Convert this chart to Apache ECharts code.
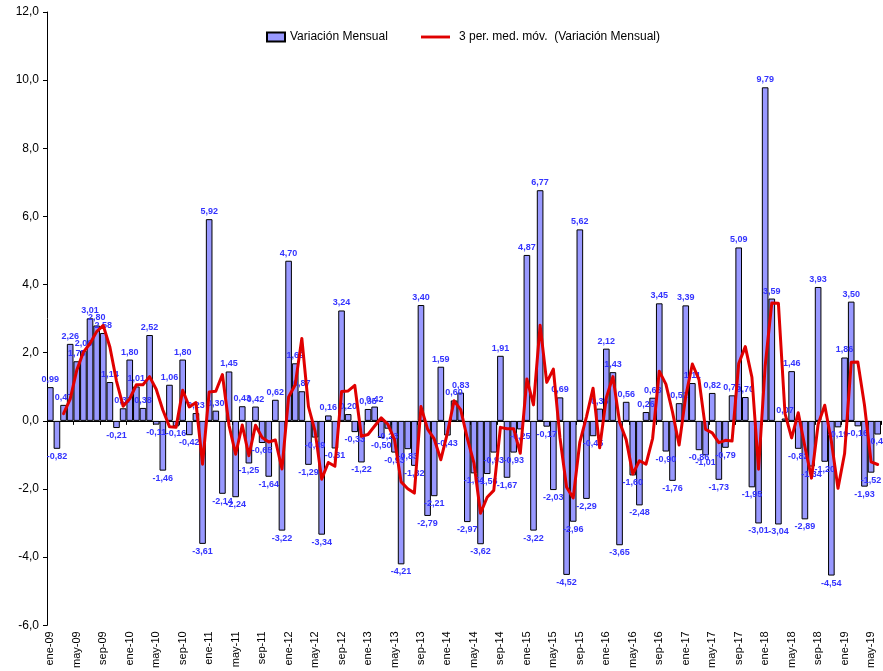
<!DOCTYPE html>
<html><head><meta charset="utf-8">
<script src="https://cdn.jsdelivr.net/npm/echarts@6/dist/echarts.min.js"></script>
<style>html,body{margin:0;padding:0;background:#fff}#c{width:883px;height:671px}</style>
</head><body><div id="c"></div>
<script>
const categories = [
 'ene-09','feb-09','mar-09','abr-09','may-09','jun-09','jul-09','ago-09','sep-09','oct-09','nov-09','dic-09',
 'ene-10','feb-10','mar-10','abr-10','may-10','jun-10','jul-10','ago-10','sep-10','oct-10','nov-10','dic-10',
 'ene-11','feb-11','mar-11','abr-11','may-11','jun-11','jul-11','ago-11','sep-11','oct-11','nov-11','dic-11',
 'ene-12','feb-12','mar-12','abr-12','may-12','jun-12','jul-12','ago-12','sep-12','oct-12','nov-12','dic-12',
 'ene-13','feb-13','mar-13','abr-13','may-13','jun-13','jul-13','ago-13','sep-13','oct-13','nov-13','dic-13',
 'ene-14','feb-14','mar-14','abr-14','may-14','jun-14','jul-14','ago-14','sep-14','oct-14','nov-14','dic-14',
 'ene-15','feb-15','mar-15','abr-15','may-15','jun-15','jul-15','ago-15','sep-15','oct-15','nov-15','dic-15',
 'ene-16','feb-16','mar-16','abr-16','may-16','jun-16','jul-16','ago-16','sep-16','oct-16','nov-16','dic-16',
 'ene-17','feb-17','mar-17','abr-17','may-17','jun-17','jul-17','ago-17','sep-17','oct-17','nov-17','dic-17',
 'ene-18','feb-18','mar-18','abr-18','may-18','jun-18','jul-18','ago-18','sep-18','oct-18','nov-18','dic-18',
 'ene-19','feb-19','mar-19','abr-19','may-19','jun-19'
];
const variacionMensual = [
 0.99,-0.82,0.47,2.26,1.75,2.06,3.01,2.80,2.58,1.14,-0.21,0.37,
 1.80,1.01,0.38,2.52,-0.11,-1.46,1.06,-0.16,1.80,-0.42,0.23,-3.61,
 5.92,0.30,-2.14,1.45,-2.24,0.43,-1.25,0.42,-0.65,-1.64,0.62,-3.22,
 4.70,1.69,0.87,-1.29,-0.49,-3.34,0.16,-0.81,3.24,0.20,-0.33,-1.22,
 0.35,0.42,-0.50,-0.23,-0.93,-4.21,-0.83,-1.32,3.40,-2.79,-2.21,1.59,
 -0.43,0.60,0.83,-2.97,-1.54,-3.62,-1.56,-0.93,1.91,-1.67,-0.93,-0.25,
 4.87,-3.22,6.77,-0.17,-2.03,0.69,-4.52,-2.96,5.62,-2.29,-0.45,0.36,
 2.12,1.43,-3.65,0.56,-1.60,-2.48,0.26,0.68,3.45,-0.90,-1.76,0.52,
 3.39,1.11,-0.86,-1.01,0.82,-1.73,-0.79,0.75,5.09,0.70,-1.95,-3.01,
 9.79,3.59,-3.04,0.07,1.46,-0.82,-2.89,-1.34,3.93,-1.20,-4.54,-0.19,
 1.86,3.50,-0.16,-1.93,-1.52,-0.40
];
const mediaMovil3 = [
 null,null,0.21,0.64,1.49,2.02,2.27,2.62,2.80,2.17,1.17,0.43,
 0.65,1.06,1.06,1.30,0.93,0.32,-0.17,-0.19,0.90,0.41,0.54,-1.27,
 0.85,0.87,1.36,-0.13,-0.98,-0.12,-1.02,-0.13,-0.49,-0.62,-0.56,-1.41,
 0.70,1.06,2.42,0.42,-0.30,-1.71,-1.22,-1.33,0.86,0.88,1.04,-0.45,
 -0.40,-0.15,0.09,-0.10,-0.55,-1.79,-1.99,-2.12,0.42,-0.24,-0.53,-1.14,
 -0.35,0.59,0.33,-0.51,-1.23,-2.71,-2.24,-2.04,-0.19,-0.23,-0.23,-0.95,
 1.23,0.47,2.81,1.13,1.52,-0.50,-1.95,-2.26,-0.62,0.12,0.96,-0.79,
 0.68,1.30,-0.03,-0.55,-1.56,-1.17,-1.27,-0.51,1.46,1.08,0.26,-0.71,
 0.72,1.67,1.21,-0.25,-0.35,-0.64,-0.57,-0.59,1.68,2.18,1.28,-1.42,
 1.61,3.46,3.45,0.21,-0.50,0.24,-0.75,-1.68,-0.10,0.46,-0.60,-1.98,
 -0.96,1.72,1.73,0.47,-1.20,-1.28
];
const yTicks = {min:-6, max:12, step:2};

const FONT = 'Liberation Sans, Arial, sans-serif';
const fmt2 = v => v.toFixed(2).replace('.', ',');
const barData = variacionMensual.map(v => ({
  value: v,
  label: {position: v < 0 ? 'bottom' : 'top'}
}));

const chart = echarts.init(document.getElementById('c'), null, {renderer:'canvas'});
chart.setOption({
  animation:false,
  textStyle:{fontFamily:FONT},
  grid:{left:47, right:2, top:12, bottom:39, containLabel:false},
  legend:[
    {data:[{name:'Variación Mensual', icon:'rect'}], left:261, top:26, itemWidth:18, itemHeight:9, itemGap:5,
     textStyle:{fontFamily:FONT, fontSize:12, color:'#000'}},
    {data:[{name:'3 per. med. móv.  (Variación Mensual)', icon:'path://M0,0 L30,0 L30,3 L0,3 Z'}],
     left:416, top:26, itemWidth:29, itemHeight:3, itemGap:8,
     itemStyle:{color:'#E00000', borderWidth:0},
     textStyle:{fontFamily:FONT, fontSize:12, color:'#000', padding:[0,0,0,4]}}
  ],
  xAxis:[
    {type:'category', data:categories, position:'bottom',
     axisLine:{show:false, onZero:false}, axisTick:{show:false},
     axisLabel:{interval:3, rotate:90, fontSize:11, color:'#000', fontFamily:FONT, margin:6},
     splitLine:{show:false}},
    {type:'category', data:categories, position:'top',
     axisLine:{show:true, onZero:true, lineStyle:{color:'#000', width:1}},
     axisTick:{show:true, inside:true, interval:3, length:4, lineStyle:{color:'#000'}},
     axisLabel:{show:false}, splitLine:{show:false}}
  ],
  yAxis:{type:'value', min:yTicks.min, max:yTicks.max, interval:yTicks.step,
    axisLine:{show:true, lineStyle:{color:'#000'}},
    axisTick:{show:true, length:4, lineStyle:{color:'#000'}},
    axisLabel:{fontSize:12, color:'#000', fontFamily:FONT, margin:8,
      formatter:v => v.toFixed(1).replace('.', ',')},
    splitLine:{show:false}},
  series:[
    {name:'Variación Mensual', type:'bar', xAxisIndex:0, data:barData,
     barWidth:'100%',
     itemStyle:{color:'#9999FF', borderColor:'#000', borderWidth:1},
     label:{show:true, fontSize:9, fontWeight:'bold', color:'#3333FF', fontFamily:FONT,
       distance:3, formatter:p => fmt2(p.value)},
     z:2},
    {name:'3 per. med. móv.  (Variación Mensual)', type:'line', xAxisIndex:0, data:mediaMovil3,
     symbol:'none', connectNulls:false,
     lineStyle:{color:'#E00000', width:3, join:'round', cap:'round'},
     itemStyle:{color:'#E00000'}, z:3}
  ]
});
</script></body></html>
